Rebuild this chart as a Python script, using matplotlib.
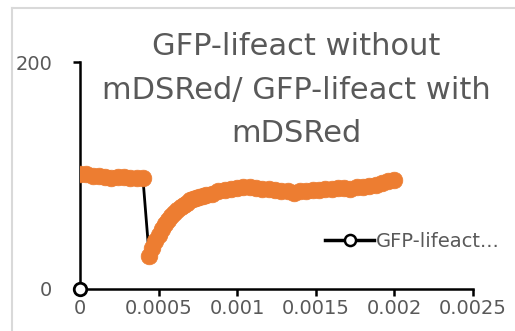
import matplotlib
matplotlib.use("Agg")
import matplotlib.pyplot as plt
from matplotlib.lines import Line2D

# sample times (microseconds) and normalised intensity (%)
pre_t_us = [0, 40, 80, 120, 160, 200, 240, 280, 320, 360, 400]
pre_vals = [101, 101, 100, 100, 99, 98, 99, 99, 98, 98, 98]

post_t_us = [440, 460, 480, 500, 520, 540, 560, 580, 600, 620,
             640, 660, 680, 700, 720, 740, 760, 780, 800,
             840, 880, 920, 960, 1000, 1040, 1080, 1120, 1160, 1200,
             1240, 1280, 1320, 1360, 1400, 1440, 1480, 1520, 1560, 1600,
             1640, 1680, 1720, 1760, 1800, 1840, 1880, 1920, 1960, 2000]
post_vals = [29, 36, 42, 48, 53, 57, 61, 64, 67, 70,
             72, 74, 76, 78, 79, 80, 81, 82, 83,
             84, 86, 87, 88, 89, 90, 90, 89, 88, 88,
             87, 86, 86, 85, 86, 86, 87, 87, 88, 88,
             89, 89, 88, 90, 90, 91, 92, 93, 95, 96]

x_ticks = [0, 0.0005, 0.001, 0.0015, 0.002, 0.0025]
x_tick_labels = ["0", "0.0005", "0.001", "0.0015", "0.002", "0.0025"]
y_ticks = [0, 200]

title = "GFP-lifeact without\nmDSRed/ GFP-lifeact with\nmDSRed"
legend_label = "GFP-lifeact..."

GRAY = "#595959"
ORANGE = "#ED7D31"

t = [v / 1e6 for v in pre_t_us + post_t_us]
vals = pre_vals + post_vals

fig = plt.figure(figsize=(5.15, 3.31), dpi=100)
ax = fig.add_axes([80 / 515, 42 / 331, 393 / 515, 227 / 331])

# chart area border (left and top edges visible)
fig.add_artist(Line2D([12 / 515, 12 / 515], [0, 1 - 8 / 331],
                      color="#D9D9D9", lw=1.5, transform=fig.transFigure))
fig.add_artist(Line2D([12 / 515, 1], [1 - 8 / 331, 1 - 8 / 331],
                      color="#D9D9D9", lw=1.5, transform=fig.transFigure))

ax.plot(t, vals, color="black", lw=2, zorder=2)
ax.plot(t, vals, ls="none", marker="o", ms=12, mfc=ORANGE, mec=ORANGE,
        mew=0.5, zorder=3)
ax.plot([0], [0], ls="none", marker="o", ms=9, mfc="white", mec="black",
        mew=2, clip_on=False, zorder=4)

ax.set_xlim(0, 0.0025)
ax.set_ylim(0, 200)
ax.set_xticks(x_ticks)
ax.set_xticklabels(x_tick_labels)
ax.set_yticks(y_ticks)

for side in ["top", "right"]:
    ax.spines[side].set_visible(False)
for side in ["left", "bottom"]:
    ax.spines[side].set_linewidth(1.8)
    ax.spines[side].set_color("black")

ax.tick_params(axis="both", direction="out", length=5, width=1.8,
               colors="black", labelcolor=GRAY, labelsize=14)
ax.tick_params(axis="x", pad=2)
ax.tick_params(axis="y", pad=15)

ax.text(0.55, 1.13, title, transform=ax.transAxes, ha="center", va="top",
        fontsize=22, color=GRAY, linespacing=1.62)

handle = Line2D([], [], color="black", lw=2.5, marker="o", ms=8,
                mfc="white", mec="black", mew=1.8)
leg = ax.legend([handle], [legend_label], loc="center left",
                bbox_to_anchor=(0.58, 0.21), frameon=False,
                handlelength=2.5, handletextpad=0.1,
                prop={"size": 14})
for txt in leg.get_texts():
    txt.set_color(GRAY)

fig.savefig("out.png", dpi=100)
